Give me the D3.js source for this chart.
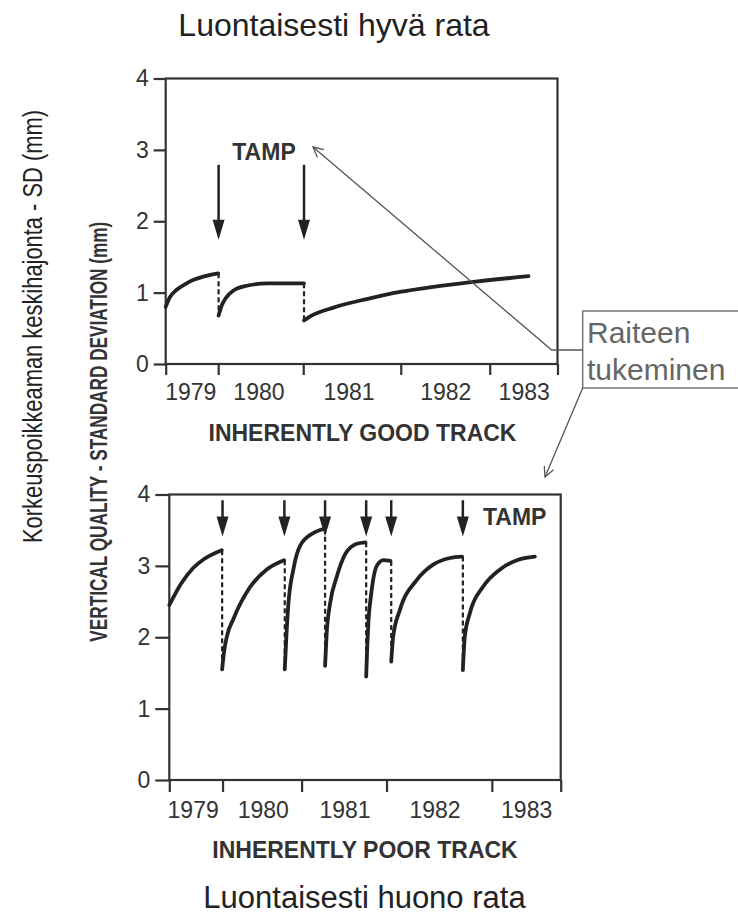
<!DOCTYPE html>
<html>
<head>
<meta charset="utf-8">
<script src="https://cdn.jsdelivr.net/npm/d3@7"></script>
<style>
  body { margin: 0; background: #fff; }
  text { font-family: "Liberation Sans", Arial, sans-serif; }
</style>
</head>
<body>
<script>
const width = 738;
const height = 917;

// time runs 0..100 across each panel (the original axis is not evenly spaced)
const years = ["1979", "1980", "1981", "1982", "1983"];
const yTicks = [0, 1, 2, 3, 4];

const goodTicks = [0, 13.4, 35.1, 60.0, 82.7, 100];
const goodYearPos = [6.4, 23.8, 46.8, 71.5, 91.5];
const goodTamps = [13.5, 35.3];
const goodSegments = [
  [[0, 0.80], [1, 0.93], [2.8, 1.04], [5, 1.12], [7.1, 1.18], [10, 1.23], [13.4, 1.27]],
  [[13.5, 0.68], [14.3, 0.82], [15.3, 0.92], [17.3, 1.03], [21, 1.10], [26, 1.13], [35.3, 1.13]],
  [[35.3, 0.61], [37, 0.67], [42.8, 0.79], [51.3, 0.91], [59.8, 1.01], [68.3, 1.08], [76.9, 1.14], [92.6, 1.23]]
];

const poorTicks = [0, 13.6, 33.8, 55.5, 82.4, 100];
const poorYearPos = [6.1, 24.0, 44.9, 67.9, 91.3];
const poorTamps = [13.6, 29.4, 39.8, 50.3, 56.7, 75.0];
const poorSegments = [
  [[0, 2.45], [3, 2.75], [6.1, 2.97], [9, 3.10], [13.4, 3.22]],
  [[13.5, 1.55], [14.0, 1.80], [14.7, 2.01], [16.4, 2.26], [20.6, 2.70], [24.9, 2.95], [29.3, 3.08]],
  [[29.5, 1.55], [29.9, 2.0], [30.4, 2.45], [31.7, 2.95], [33.4, 3.28], [36.8, 3.46], [39.6, 3.52]],
  [[39.8, 1.60], [40.2, 2.05], [41.1, 2.48], [42.8, 2.85], [44.9, 3.16], [47.9, 3.31], [50.1, 3.33]],
  [[50.3, 1.45], [50.6, 1.90], [50.9, 2.24], [51.5, 2.57], [53.0, 3.00], [54.7, 3.08], [56.5, 3.07]],
  [[56.7, 1.66], [57.2, 2.01], [58.9, 2.38], [63.2, 2.80], [67.5, 3.02], [71.7, 3.11], [74.8, 3.13]],
  [[75.0, 1.54], [75.5, 2.01], [76.8, 2.34], [80.2, 2.71], [84.5, 2.95], [88.8, 3.08], [93.4, 3.13]]
];

const svg = d3.select("body")
  .append("svg")
  .attr("width", width)
  .attr("height", height);

const ink = "#222";
const grey = "#333";

function drawPanel(cfg) {
  const x = d3.scaleLinear().domain([0, 100]).range([cfg.left, cfg.right]);
  const y = d3.scaleLinear().domain([0, 4]).range([cfg.bottom, cfg.top]);
  const g = svg.append("g");

  // frame
  g.append("rect")
    .attr("x", cfg.left).attr("y", y(4))
    .attr("width", cfg.right - cfg.left).attr("height", cfg.bottom - y(4))
    .attr("fill", "none").attr("stroke", grey).attr("stroke-width", 2.2);

  const yAxis = g.append("g")
    .attr("transform", `translate(${cfg.left},0)`)
    .call(d3.axisLeft(y).tickValues(yTicks).tickSize(cfg.yTick).tickPadding(cfg.yPad).tickFormat(d3.format("d")));
  const xAxis = g.append("g")
    .attr("transform", `translate(0,${cfg.bottom})`)
    .call(d3.axisBottom(x).tickValues(cfg.ticks).tickSize(cfg.xTick).tickFormat(""));
  [yAxis, xAxis].forEach(a => {
    a.select(".domain").remove();
    a.selectAll("line").attr("stroke", grey).attr("stroke-width", 2.2);
  });
  yAxis.selectAll("text")
    .attr("font-size", 23).attr("fill", grey)
    .attr("font-family", "'Liberation Sans', Arial, sans-serif");

  g.selectAll(".year")
    .data(years)
    .enter()
    .append("text")
    .attr("x", (d, i) => x(cfg.yearPos[i]))
    .attr("y", cfg.bottom + cfg.yearDy)
    .attr("text-anchor", "middle")
    .attr("font-size", 23)
    .attr("fill", grey)
    .text(d => d);

  g.append("text")
    .attr("x", cfg.titleX).attr("y", cfg.titleY)
    .attr("text-anchor", "middle")
    .attr("font-size", 23).attr("font-weight", "bold").attr("fill", grey)
    .text(cfg.title);

  // dashed drops at each tamping
  g.selectAll(".drop")
    .data(cfg.segments.slice(1))
    .enter()
    .append("line")
    .attr("x1", d => x(d[0][0])).attr("x2", d => x(d[0][0]))
    .attr("y1", (d, i) => y(cfg.segments[i][cfg.segments[i].length - 1][1]))
    .attr("y2", d => y(d[0][1]))
    .attr("stroke", ink).attr("stroke-width", 2.2)
    .attr("stroke-dasharray", "5,3");

  const line = d3.line()
    .x(d => x(d[0]))
    .y(d => y(d[1]))
    .curve(d3.curveMonotoneX);

  g.selectAll(".seg")
    .data(cfg.segments)
    .enter()
    .append("path")
    .attr("d", line)
    .attr("fill", "none")
    .attr("stroke", ink)
    .attr("stroke-width", 3.8)
    .attr("stroke-linecap", "round");

  // tamp arrows
  const arrows = g.selectAll(".tamp")
    .data(cfg.tamps)
    .enter()
    .append("g");
  arrows.append("line")
    .attr("x1", d => x(d)).attr("x2", d => x(d))
    .attr("y1", y(cfg.arrowTop)).attr("y2", y(cfg.arrowTip) - 12)
    .attr("stroke", ink).attr("stroke-width", 2.5);
  arrows.append("path")
    .attr("d", d => `M${x(d) - 6},${y(cfg.arrowTip) - 20}L${x(d) + 6},${y(cfg.arrowTip) - 20}L${x(d)},${y(cfg.arrowTip)}Z`)
    .attr("fill", ink);

  g.append("text")
    .attr("x", cfg.tampX).attr("y", cfg.tampY)
    .attr("text-anchor", cfg.tampAnchor)
    .attr("font-size", 23).attr("font-weight", "bold").attr("fill", grey)
    .text("TAMP");
}

drawPanel({
  left: 165.7, right: 557.5, top: 78.5, bottom: 364,
  ticks: goodTicks, yearPos: goodYearPos, segments: goodSegments, tamps: goodTamps,
  yTick: 12, yPad: 5, xTick: 11, yearDy: 36,
  title: "INHERENTLY GOOD TRACK", titleX: 362.5, titleY: 441,
  arrowTop: 2.79, arrowTip: 1.74,
  tampX: 264, tampY: 160, tampAnchor: "middle"
});

drawPanel({
  left: 169.3, right: 560.7, top: 494.5, bottom: 780,
  ticks: poorTicks, yearPos: poorYearPos, segments: poorSegments, tamps: poorTamps,
  yTick: 14, yPad: 5, xTick: 12, yearDy: 38,
  title: "INHERENTLY POOR TRACK", titleX: 365, titleY: 858,
  arrowTop: 3.92, arrowTip: 3.41,
  tampX: 483, tampY: 525, tampAnchor: "start"
});

// shared axis labels
svg.append("text")
  .attr("transform", "translate(107,431.7) rotate(-90)")
  .attr("text-anchor", "middle")
  .attr("font-size", 24).attr("font-weight", "bold").attr("fill", grey)
  .attr("textLength", 420).attr("lengthAdjust", "spacingAndGlyphs")
  .text("VERTICAL QUALITY - STANDARD DEVIATION (mm)");

svg.append("text")
  .attr("transform", "translate(42,326.5) rotate(-90)")
  .attr("text-anchor", "middle")
  .attr("font-size", 27).attr("fill", ink)
  .attr("textLength", 433).attr("lengthAdjust", "spacingAndGlyphs")
  .text("Korkeuspoikkeaman keskihajonta - SD (mm)");

// Finnish titles
svg.append("text")
  .attr("x", 334).attr("y", 36)
  .attr("text-anchor", "middle")
  .attr("font-size", 32).attr("fill", ink)
  .text("Luontaisesti hyvä rata");

svg.append("text")
  .attr("x", 364.5).attr("y", 908)
  .attr("text-anchor", "middle")
  .attr("font-size", 31).attr("fill", ink)
  .text("Luontaisesti huono rata");

// callout "Raiteen tukeminen"
const note = svg.append("g");
const noteColor = "#777";
note.append("defs").append("marker")
  .attr("id", "open")
  .attr("viewBox", "0 0 12 12")
  .attr("refX", 11).attr("refY", 6)
  .attr("markerWidth", 12).attr("markerHeight", 12)
  .attr("markerUnits", "userSpaceOnUse")
  .attr("orient", "auto")
  .append("path")
  .attr("d", "M1,1L11,6L1,11")
  .attr("fill", "none").attr("stroke", "#555").attr("stroke-width", 1.3);

note.append("rect")
  .attr("x", 582.7).attr("y", 311)
  .attr("width", 170).attr("height", 77)
  .attr("fill", "#fff").attr("stroke", noteColor).attr("stroke-width", 1.5);

note.append("polyline")
  .attr("points", "582.7,350 551.7,350 313,147")
  .attr("fill", "none").attr("stroke", "#555").attr("stroke-width", 1.3)
  .attr("marker-end", "url(#open)");

note.append("line")
  .attr("x1", 582.7).attr("y1", 388)
  .attr("x2", 545).attr("y2", 477)
  .attr("stroke", "#555").attr("stroke-width", 1.3)
  .attr("marker-end", "url(#open)");

note.selectAll(".nt")
  .data(["Raiteen", "tukeminen"])
  .enter()
  .append("text")
  .attr("x", 587)
  .attr("y", (d, i) => 343 + i * 37)
  .attr("font-size", 30)
  .attr("fill", "#666")
  .text(d => d);
</script>
</body>
</html>
